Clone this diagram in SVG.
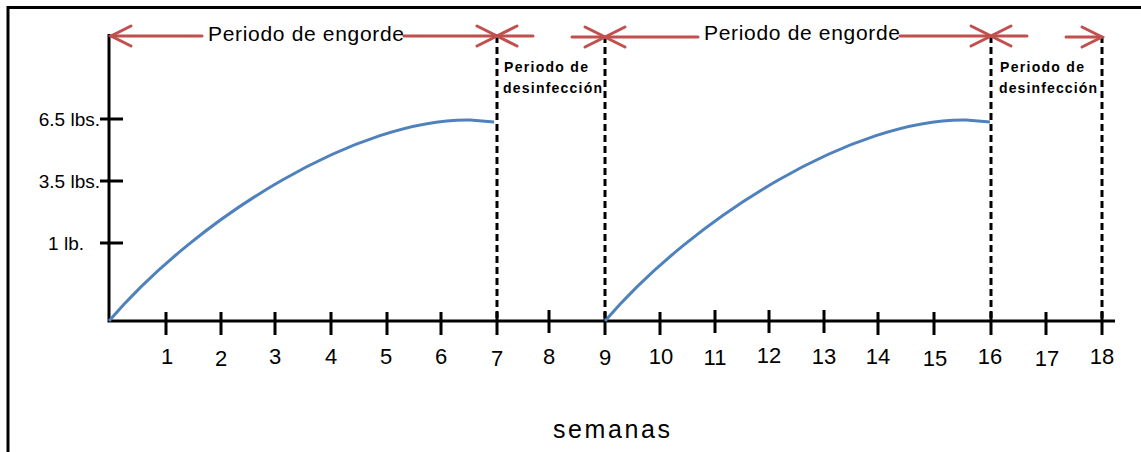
<svg xmlns="http://www.w3.org/2000/svg" width="1141" height="452" viewBox="0 0 1141 452">
<defs>
<style>
.ax{stroke:#000;stroke-width:3;fill:none}
.dash{stroke:#000;stroke-width:3;stroke-dasharray:7 4;fill:none}
.red{stroke:#C0504D;stroke-width:3;fill:none;stroke-linecap:round}
.crv{stroke:#4F81BD;stroke-width:3;fill:none}
.t{font-family:"Liberation Sans","Open Sans",sans-serif;fill:#000}
.num{font-size:22px;text-anchor:middle}
.lab{font-size:19px;text-anchor:end}
.top{font-size:21px}
.small{font-size:14px;font-weight:bold}
</style>
</defs>
<rect width="1141" height="452" fill="#fff"/>
<g id="frame">
<path class="ax" d="M8,452 V7.5 H1141"/>
</g>
<g id="axes">
<path class="ax" d="M109,34 V321 H1115"/>
<path class="ax" d="M100,119 H123 M100,181 H123 M100,243 H123"/>
<path class="ax" d="M166,312 V335 M221,312 V335 M275,312 V335 M331,312 V335 M387,312 V335 M441,312 V335 M497,312 V335 M549,310 V333 M605,312 V335 M660,312 V335 M715,310 V333 M769,310 V333 M824,310 V333 M878,312 V335 M934,312 V335 M991,312 V335 M1046,312 V335 M1102,312 V335"/>
</g>
<g id="ylabels" class="t lab">
<text x="100" y="126">6.5 lbs.</text>
<text x="100" y="188">3.5 lbs.</text>
<text x="84" y="250">1 lb.</text>
</g>
<g id="xlabels" class="t num">
<text x="167" y="364">1</text><text x="221" y="366">2</text><text x="275" y="364">3</text><text x="331" y="364">4</text><text x="386" y="364">5</text><text x="441" y="364">6</text><text x="497" y="366">7</text><text x="549" y="364">8</text><text x="605" y="365">9</text><text x="661" y="364">10</text><text x="715" y="365">11</text><text x="769" y="363">12</text><text x="824" y="364">13</text><text x="878" y="364">14</text><text x="935" y="366">15</text><text x="990" y="364">16</text><text x="1047" y="366">17</text><text x="1102" y="364">18</text>
</g>
<g id="curves">
<path class="crv" d="M109,321 C200,215 360,118 470,120 L494,122"/>
<path class="crv" d="M605,321 C696,215 856,118 966,120 L990,122"/>
</g>
<g id="dividers">
<path class="dash" d="M497,36 V321 M605,36 V321 M991,36 V321 M1102,36 V321"/>
</g>
<g id="connectors">
<path class="red" d="M111,36 H202 M404,36 H497 M497,36 H533 M572,37 H605 M605,37 H698 M900,36 H991 M991,36 H1027 M1066,37 H1102"/>
<path class="red" d="M131,26 L111,36 L131,46"/>
<path class="red" d="M477,26 L497,36 L477,46 M517,26 L497,36 L517,46"/>
<path class="red" d="M585,27 L605,37 L585,47 M625,27 L605,37 L625,47"/>
<path class="red" d="M971,26 L991,36 L971,46 M1011,26 L991,36 L1011,46"/>
<path class="red" d="M1082,27 L1102,37 L1082,47"/>
</g>
<g id="labels" class="t">
<text class="top" x="208" y="41" textLength="196">Periodo de engorde</text>
<text class="top" x="704" y="40" textLength="196">Periodo de engorde</text>
<text class="small" x="504" y="72" textLength="84">Periodo de</text>
<text class="small" x="503" y="93" textLength="99">desinfección</text>
<text class="small" x="1000" y="72" textLength="84">Periodo de</text>
<text class="small" x="999" y="93" textLength="98">desinfección</text>
<text x="553" y="438" font-size="25" textLength="117">semanas</text>
</g>
</svg>
